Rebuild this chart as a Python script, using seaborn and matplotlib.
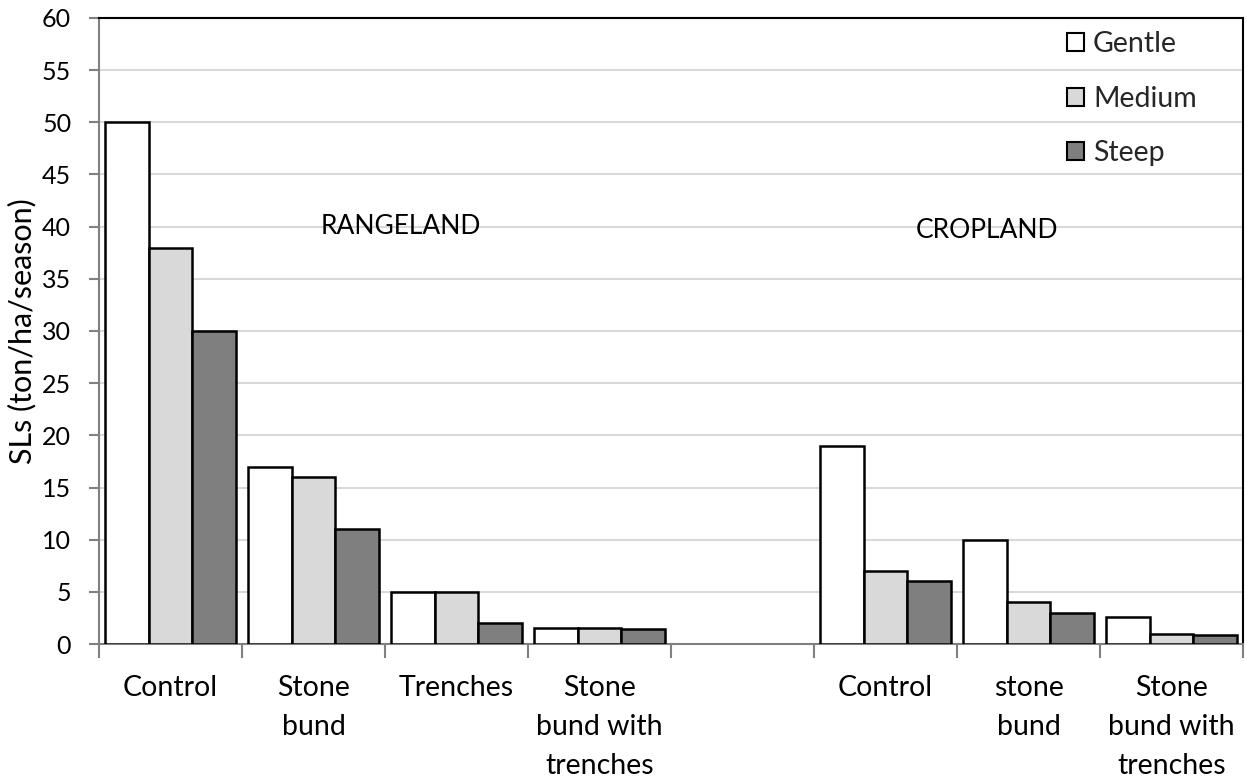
import matplotlib
matplotlib.use("Agg")
import matplotlib.pyplot as plt
from matplotlib.ticker import FixedLocator, MultipleLocator
import seaborn as sns
import pandas as pd
import numpy as np

# Soil loss per treatment and slope class
group_keys = ["r_control", "r_bund", "r_trench", "r_bund_trench", "gap",
              "c_control", "c_bund", "c_bund_trench"]
group_labels = ["Control", "Stone\nbund", "Trenches", "Stone\nbund with\ntrenches", "",
                "Control", "stone\nbund", "Stone\nbund with\ntrenches"]
slopes = ["Gentle", "Medium", "Steep"]
gentle = [50, 17, 5, 1.5, None, 19, 10, 2.6]
medium = [38, 16, 5, 1.5, None, 7, 4, 1.0]
steep = [30, 11, 2, 1.4, None, 6, 3, 0.85]
colors = ["#ffffff", "#d9d9d9", "#7f7f7f"]

rows = []
for key, g, m, s in zip(group_keys, gentle, medium, steep):
    for slope, v in zip(slopes, (g, m, s)):
        if v is not None:
            rows.append({"group": key, "slope": slope, "sls": v})
df = pd.DataFrame(rows)

sns.set_theme(style="white")
plt.rcParams["font.family"] = ["Lato", "DejaVu Sans"]

fig = plt.figure(figsize=(12.47, 7.8), dpi=100)
ax = fig.add_axes([99 / 1247, 1 - 644 / 780, (1243 - 99) / 1247, (644 - 18) / 780])

sns.barplot(data=df, x="group", y="sls", hue="slope", order=group_keys,
            hue_order=slopes, palette=colors, width=0.923, edgecolor="black",
            linewidth=1.8, errorbar=None, ax=ax, zorder=3)

ax.set_xlim(-0.5, len(group_keys) - 0.5)
ax.set_ylim(0, 60)
ax.yaxis.set_major_locator(MultipleLocator(5))
ax.grid(axis="y", color="#d9d9d9", linewidth=1.5, zorder=0)
ax.set_axisbelow(True)

# Category labels centered, boundary ticks between categories
ax.set_xticks(range(len(group_keys)))
ax.set_xticklabels(group_labels, fontsize=20.5, linespacing=1.62, va="top")
ax.tick_params(axis="x", which="major", length=0, pad=22, labelcolor="black")
ax.xaxis.set_minor_locator(FixedLocator(np.arange(-0.5, len(group_keys), 1.0)))
ax.tick_params(axis="x", which="minor", length=10, width=1.5, color="#808080",
               direction="out", bottom=True)
ax.tick_params(axis="y", which="major", length=7, width=1.5, color="#808080",
               direction="out", left=True, labelsize=18, pad=13, labelcolor="black")

for side in ("left", "bottom"):
    ax.spines[side].set_color("#808080")
    ax.spines[side].set_linewidth(1.5)
for side in ("top", "right"):
    ax.spines[side].set_color("black")
    ax.spines[side].set_linewidth(1.5)

ax.set_xlabel("")
ax.set_ylabel("SLs (ton/ha/season)", fontsize=22, color="black", labelpad=4)

ax.text(1.61, 40, "RANGELAND", fontsize=19, ha="center", va="center", color="black")
ax.text(5.71, 39.6, "CROPLAND", fontsize=19, ha="center", va="center", color="black")

leg = ax.legend(title=None, loc="upper right", bbox_to_anchor=(0.982, 1.02),
                frameon=False, fontsize=20.5, handlelength=0.6, handleheight=0.6,
                handletextpad=0.3, labelspacing=1.0)
for h in leg.legend_handles:
    h.set_edgecolor("black")
    h.set_linewidth(1.5)

fig.savefig("out.png", dpi=100)
